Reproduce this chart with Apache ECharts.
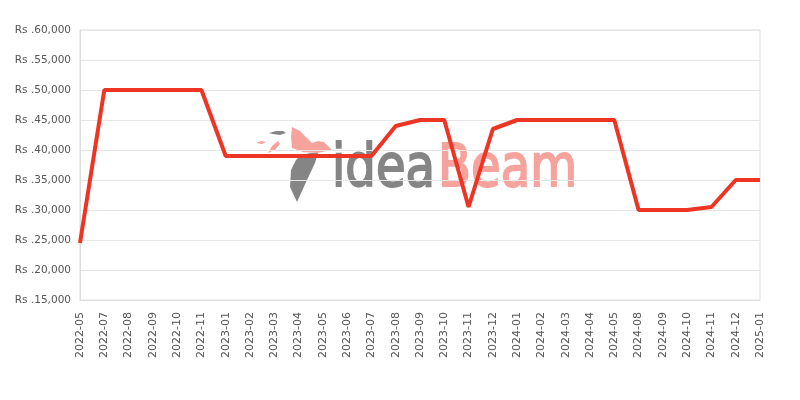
<!DOCTYPE html>
<html><head><meta charset="utf-8">
<script src="https://cdn.jsdelivr.net/npm/echarts@6/dist/echarts.min.js"></script>
<style>html,body{margin:0;padding:0;background:#fff}#c{width:800px;height:400px}</style>
</head><body><div id="c"></div>
<script>
const categories = ['2022-05','2022-07','2022-08','2022-09','2022-10','2022-11','2023-01','2023-02','2023-03','2023-04','2023-05','2023-06','2023-07','2023-08','2023-09','2023-10','2023-11','2023-12','2024-01','2024-02','2024-03','2024-04','2024-05','2024-08','2024-09','2024-10','2024-11','2024-12','2025-01'];
const prices = [24500,50000,50000,50000,50000,50000,39000,39000,39000,39000,39000,39000,39000,44000,45000,45000,30500,43500,45000,45000,45000,45000,45000,30000,30000,30000,30500,35000,35000];
const yMin = 15000, yMax = 60000, yStep = 5000;

const grey = '#858585', salmon = '#f6a39d';
const chart = echarts.init(document.getElementById('c'));
chart.setOption({
  animation: false,
  textStyle: {fontFamily: 'DejaVu Sans'},
  grid: {left: 80, right: 40, top: 30, bottom: 100, show: true, borderColor: '#ddd', borderWidth: 1},
  graphic: [
    {type: 'text', x: 332, y: 142, scaleX: 0.83, z: 0, style: {text: 'idea', fontFamily: 'DejaVu Sans', fontSize: 58, fill: grey, stroke: grey, lineWidth: 2}},
    {type: 'text', x: 438, y: 142, scaleX: 0.83, z: 0, style: {text: 'Beam', fontFamily: 'DejaVu Sans', fontSize: 58, fill: salmon, stroke: salmon, lineWidth: 2}},
    {type: 'polygon', z: 0, shape: {points: [[292,127],[300,131],[307,138],[312,143],[318,141],[324,142],[332,150],[317,153],[303,152],[292,148],[291,137]]}, style: {fill: salmon}},
    {type: 'polygon', z: 0, shape: {points: [[296,160],[300,156],[310,153],[318,153],[315,163],[307,180],[297,202],[290,187],[291,170]]}, style: {fill: grey}},
    {type: 'polygon', z: 0, shape: {points: [[269,133],[276,131],[283,131],[286,133],[280,135],[273,134]]}, style: {fill: grey}},
    {type: 'polygon', z: 0, shape: {points: [[256,143],[261,141],[266,142],[262,144]]}, style: {fill: salmon}},
    {type: 'polygon', z: 0, shape: {points: [[268,153],[272,146],[278,141],[280,144],[275,150]]}, style: {fill: salmon}}
  ],
  xAxis: {
    type: 'category', data: categories, boundaryGap: false,
    axisLine: {lineStyle: {color: '#ddd'}}, axisTick: {show: false},
    axisLabel: {rotate: 90, color: '#555', fontSize: 11, interval: 0, margin: 12, fontFamily: 'DejaVu Sans'}
  },
  yAxis: {
    type: 'value', min: yMin, max: yMax, interval: yStep,
    axisLine: {show: true, lineStyle: {color: '#ddd'}}, axisTick: {show: false},
    splitLine: {lineStyle: {color: '#e6e6e6'}},
    axisLabel: {color: '#555', fontSize: 10.5, margin: 9, fontFamily: 'DejaVu Sans', formatter: v => 'Rs .' + v.toLocaleString('en-US')}
  },
  series: [{
    type: 'line', data: prices, symbol: 'none', z: 5,
    lineStyle: {color: '#ee3524', width: 4}
  }]
});
</script></body></html>
